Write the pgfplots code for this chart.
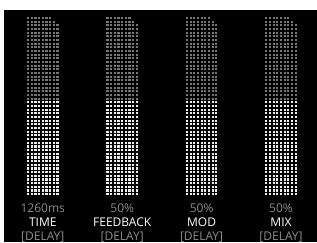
\documentclass[border=0pt]{standalone}
\usepackage{pgfplots}
\pgfplotsset{compat=1.18}
\usepackage{pgfplotstable}
\usepackage{fontspec}
\setmainfont{Open Sans}
\definecolor{dimdot}{RGB}{118,118,118}
\definecolor{litdot}{RGB}{238,238,238}
\definecolor{valgray}{RGB}{140,140,140}
\pgfplotsset{dotcol/.style={line width=2.1pt, dash pattern=on 2.1pt off 1.57pt, dash phase=2.885pt, line cap=butt}}

% columns: x, top of unlit part, length unlit, level (top of lit part), length lit
\pgfplotstableread{
x top dimlen lvl litlen
28.12 16.165 84.41 100.575 95.42
31.79 16.165 84.41 100.575 95.42
35.46 16.165 84.41 100.575 95.42
39.13 16.165 84.41 100.575 95.42
42.80 16.165 84.41 100.575 95.42
46.47 16.165 84.41 100.575 95.42
50.14 16.165 84.41 100.575 95.42
53.81 19.835 80.74 100.575 95.42
57.48 23.505 77.07 100.575 95.42
}\barA
\pgfplotstableread{
x top dimlen lvl litlen
107.52 16.165 84.41 100.575 95.42
111.19 16.165 84.41 100.575 95.42
114.86 16.165 84.41 100.575 95.42
118.53 16.165 84.41 100.575 95.42
122.20 16.165 84.41 100.575 95.42
125.87 16.165 84.41 100.575 95.42
129.54 16.165 84.41 100.575 95.42
133.21 19.835 80.74 100.575 95.42
136.88 23.505 77.07 100.575 95.42
}\barB
\pgfplotstableread{
x top dimlen lvl litlen
186.92 16.165 84.41 100.575 95.42
190.59 16.165 84.41 100.575 95.42
194.26 16.165 84.41 100.575 95.42
197.93 16.165 84.41 100.575 95.42
201.60 16.165 84.41 100.575 95.42
205.27 16.165 84.41 100.575 95.42
208.94 16.165 84.41 100.575 95.42
212.61 19.835 80.74 100.575 95.42
216.28 23.505 77.07 100.575 95.42
}\barC
\pgfplotstableread{
x top dimlen lvl litlen
266.32 16.165 84.41 100.575 95.42
269.99 16.165 84.41 100.575 95.42
273.66 16.165 84.41 100.575 95.42
277.33 16.165 84.41 100.575 95.42
281.00 16.165 84.41 100.575 95.42
284.67 16.165 84.41 100.575 95.42
288.34 16.165 84.41 100.575 95.42
292.01 19.835 80.74 100.575 95.42
295.68 23.505 77.07 100.575 95.42
}\barD

\begin{document}
\begin{tikzpicture}
\begin{axis}[x=1pt, y=1pt, y dir=reverse,
  xmin=0, xmax=317, ymin=0, ymax=242,
  hide axis, clip=true]
\fill[white] (axis cs:0,0) rectangle (axis cs:317,242);
\fill[black] (axis cs:4,10) rectangle (axis cs:317,242);
\addplot[dimdot, dotcol, -, quiver={u=0, v=\thisrow{dimlen}}] table[x=x, y=top] {\barA};
\addplot[litdot, dotcol, -, quiver={u=0, v=\thisrow{litlen}}] table[x=x, y=lvl] {\barA};
\addplot[dimdot, dotcol, -, quiver={u=0, v=\thisrow{dimlen}}] table[x=x, y=top] {\barB};
\addplot[litdot, dotcol, -, quiver={u=0, v=\thisrow{litlen}}] table[x=x, y=lvl] {\barB};
\addplot[dimdot, dotcol, -, quiver={u=0, v=\thisrow{dimlen}}] table[x=x, y=top] {\barC};
\addplot[litdot, dotcol, -, quiver={u=0, v=\thisrow{litlen}}] table[x=x, y=lvl] {\barC};
\addplot[dimdot, dotcol, -, quiver={u=0, v=\thisrow{dimlen}}] table[x=x, y=top] {\barD};
\addplot[litdot, dotcol, -, quiver={u=0, v=\thisrow{litlen}}] table[x=x, y=lvl] {\barD};
\tikzset{lab/.style={anchor=base, inner sep=0pt, font=\fontsize{12}{14}\selectfont}}
\node[lab, text=valgray] at (axis cs:42.8,212.7) {1260ms};
\node[lab, text=valgray] at (axis cs:122.2,212.7) {50\%};
\node[lab, text=valgray] at (axis cs:201.6,212.7) {50\%};
\node[lab, text=valgray] at (axis cs:281.0,212.7) {50\%};
\node[lab, text=white] at (axis cs:42.8,226.7) {TIME};
\node[lab, text=white] at (axis cs:122.2,226.7) {FEEDBACK};
\node[lab, text=white] at (axis cs:201.6,226.7) {MOD};
\node[lab, text=white] at (axis cs:281.0,226.7) {MIX};
\node[lab, text=valgray] at (axis cs:42.8,240.2) {[DELAY]};
\node[lab, text=valgray] at (axis cs:122.2,240.2) {[DELAY]};
\node[lab, text=valgray] at (axis cs:201.6,240.2) {[DELAY]};
\node[lab, text=valgray] at (axis cs:281.0,240.2) {[DELAY]};
\end{axis}
\end{tikzpicture}
\end{document}
